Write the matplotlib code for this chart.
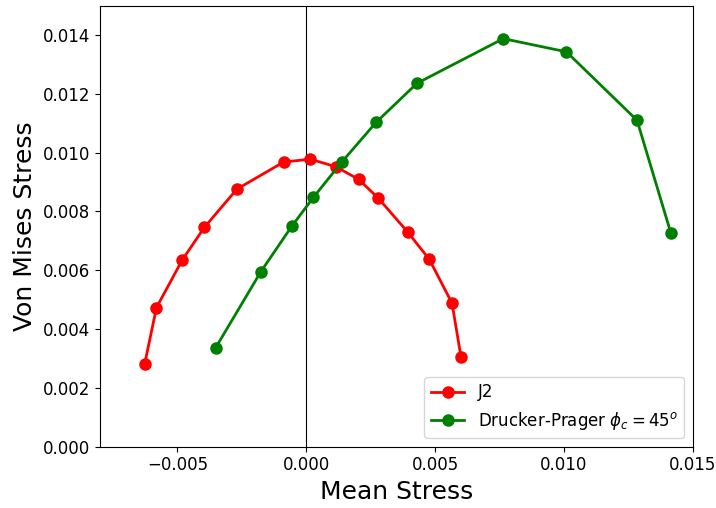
import numpy as np
import matplotlib
matplotlib.use('Agg')
import matplotlib.pyplot as plt

# J2 path
j2_p = [-0.00627, -0.00581, -0.00481, -0.00395, -0.00269, -0.00088, 0.00016,
        0.00116, 0.00204, 0.00279, 0.00394, 0.00478, 0.00566, 0.00601]
j2_q = [0.00280, 0.00473, 0.00635, 0.00746, 0.00876, 0.00968, 0.00978,
        0.00952, 0.00909, 0.00846, 0.00730, 0.00637, 0.00488, 0.00304]

# Drucker-Prager path
dp_p = [-0.00351, -0.00176, -0.00055, 0.00028, 0.00138, 0.00271, 0.00430,
        0.00765, 0.01010, 0.01284, 0.01415]
dp_q = [0.00337, 0.00595, 0.00751, 0.00848, 0.00968, 0.01103, 0.01236,
        0.01388, 0.01343, 0.01110, 0.00727]

fig = plt.figure(figsize=(7.16, 5.08), dpi=100)
ax = fig.add_axes([0.1397, 0.1207, 0.8278, 0.8681])

ax.axvline(0, color='k', lw=0.8)
ax.plot(j2_p, j2_q, 'o-', color='red', lw=2, ms=8, label='J2')
ax.plot(dp_p, dp_q, 'o-', color='green', lw=2, ms=8,
        label=r'Drucker-Prager $\phi_c = 45^o$')

ax.set_xlim(-0.008, 0.015)
ax.set_ylim(0, 0.015)
ax.set_xticks([-0.005, 0.0, 0.005, 0.010, 0.015])
ax.set_yticks(np.arange(0, 0.0141, 0.002))
ax.tick_params(labelsize=12)
ax.set_xlabel('Mean Stress', fontsize=18)
ax.set_ylabel('Von Mises Stress', fontsize=18)
ax.legend(loc='lower right', fontsize=12)

fig.savefig('out.png', dpi=100)
